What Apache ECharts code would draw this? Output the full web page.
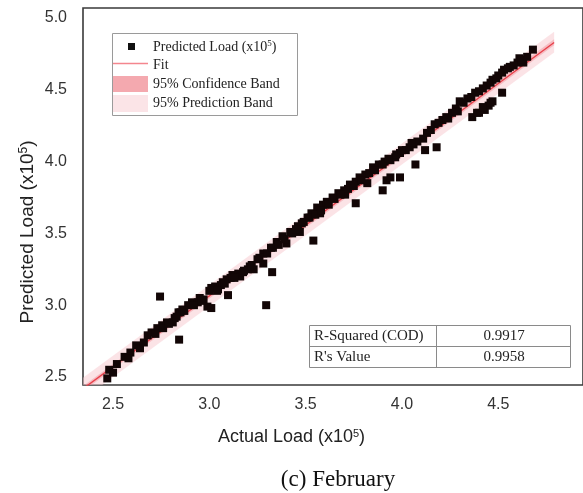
<!DOCTYPE html>
<html>
<head>
<meta charset="utf-8">
<script src="https://cdn.jsdelivr.net/npm/echarts@6/dist/echarts.min.js"></script>
<style>html,body{margin:0;padding:0;background:#fff;}#c{width:583px;height:493px;}</style>
</head>
<body>
<div id="c"></div>
<script>
// Data (units x10^5)
var actualLoad = [2.47,2.48,2.52,2.56,2.59,2.62,2.64,2.68,2.70,2.73,2.755,2.78,2.81,2.82,2.84,2.85,2.86,2.89,2.91,2.94,2.95,2.97,2.99,3.01,3.01,3.03,3.045,3.06,3.07,3.09,3.11,3.12,3.15,3.16,3.175,3.20,3.23,
  2.744,2.843,3.097,3.295,3.326,
  3.21,3.25,3.28,3.28,3.32,3.35,3.38,3.40,3.42,3.46,3.47,3.48,3.51,3.53,3.56,3.575,3.59,3.61,3.64,3.67,3.70,3.705,3.73,3.76,3.78,3.81,3.82,3.85,3.88,3.91,3.94,
  3.54,3.76,3.90,3.92,3.94,3.99,4.07,
  3.965,3.99,4.02,4.04,4.06,4.08,4.11,4.15,4.17,4.21,4.24,4.28,4.29,4.30,4.34,4.38,4.42,4.44,4.47,4.50,4.53,4.56,4.60,4.61,4.63,4.68,
  4.365,4.39,4.43,4.45,4.47,4.52,4.12,4.18,
  2.50,2.58,2.66,2.72,2.76,2.79,2.83,2.87,2.92,2.96,3.00,3.04,3.08,3.13,3.18,3.22,3.26,3.30,3.33,3.36,3.39,3.43,3.45,3.49,3.52,3.55,3.58,3.62,3.65,3.68,3.72,3.75,3.79,3.83,3.86,3.90,3.93,3.97,4.00,4.05,4.13,4.19,4.23,4.26,4.32,4.36,4.40,4.46,4.49,4.52,4.55,4.58,4.62,4.65,4.40,4.42,4.46];
var predictedLoad = [2.49,2.55,2.59,2.64,2.67,2.72,2.70,2.79,2.81,2.84,2.86,2.88,2.88,2.91,2.95,2.95,2.97,3.00,3.02,3.02,3.05,3.04,2.99,2.98,3.12,3.13,3.11,3.14,3.16,3.18,3.19,3.21,3.22,3.20,3.23,3.25,3.25,
  3.06,2.76,3.07,3.00,3.23,
  3.27,3.32,3.36,3.29,3.40,3.44,3.48,3.43,3.51,3.55,3.51,3.57,3.61,3.64,3.68,3.64,3.70,3.72,3.75,3.78,3.80,3.77,3.84,3.86,3.89,3.91,3.85,3.96,3.98,4.00,4.01,
  3.45,3.71,3.80,3.87,3.89,3.89,3.98,
  4.03,4.06,4.08,4.10,4.12,4.14,4.16,4.22,4.26,4.29,4.30,4.37,4.35,4.42,4.44,4.48,4.51,4.53,4.57,4.60,4.64,4.66,4.69,4.72,4.69,4.78,
  4.31,4.34,4.36,4.39,4.42,4.48,4.08,4.10,
  2.53,2.63,2.74,2.80,2.84,2.87,2.92,2.96,3.00,3.03,3.10,3.10,3.15,3.19,3.24,3.28,3.33,3.36,3.40,3.42,3.46,3.50,3.53,3.58,3.61,3.63,3.66,3.70,3.74,3.77,3.81,3.83,3.87,3.92,3.94,3.98,4.02,4.05,4.08,4.13,4.20,4.27,4.31,4.34,4.41,4.45,4.49,4.55,4.58,4.62,4.65,4.67,4.71,4.73,4.34,4.38,4.41];

var fitX = [2.344, 4.79];
var fitY = [2.418, 4.83];
var bandX = [2.344, 4.79];
var confLower = [2.400, 4.810];
var confUpper = [2.436, 4.852];
var predLower = [2.345, 4.760];
var predUpper = [2.495, 4.905];

var xTicks = [2.5, 3.0, 3.5, 4.0, 4.5];
var yTicks = [2.5, 3.0, 3.5, 4.0, 4.5, 5.0];
var rSquared = '0.9917';
var rValue = '0.9958';

var scatterData = actualLoad.map(function(v, i){ return [v, predictedLoad[i]]; });
var fitData = fitX.map(function(v, i){ return [v, fitY[i]]; });

function bandSeries(lower, upper, color) {
  return {
    type: 'custom',
    clip: true,
    silent: true,
    data: bandX.map(function(v, i){ return [v, lower[i], upper[i]]; }),
    encode: {x: 0, y: [1, 2]},
    renderItem: function(params, api) {
      if (params.dataIndex !== 0) return null;
      var pts = [];
      for (var i = 0; i < bandX.length; i++) pts.push(api.coord([bandX[i], upper[i]]));
      for (var j = bandX.length - 1; j >= 0; j--) pts.push(api.coord([bandX[j], lower[j]]));
      var cs = params.coordSys;
      return {
        type: 'group',
        clipPath: {type: 'rect', shape: {x: cs.x, y: cs.y, width: cs.width, height: cs.height}},
        children: [{type: 'polygon', shape: {points: pts}, style: {fill: color}}]
      };
    },
    z: 1
  };
}

var serif = '"Liberation Serif", "Times New Roman", serif';
var sans = '"Liberation Sans", Arial, sans-serif';

var chart = echarts.init(document.getElementById('c'), null, {renderer: 'canvas'});
chart.setOption({
  animation: false,
  backgroundColor: '#fff',
  grid: {left: 83, top: 8, right: -3, bottom: 108, show: true, borderColor: '#3a3a3a', borderWidth: 1.6, backgroundColor: 'transparent'},
  xAxis: {
    type: 'value', min: 2.344, max: 4.94,
    axisLine: {show: false}, axisTick: {show: false}, splitLine: {show: false},
    axisLabel: {customValues: xTicks, color: '#333', fontFamily: sans, fontSize: 16, margin: 12,
      formatter: function(v){ return v.toFixed(1); }}
  },
  yAxis: {
    type: 'value', min: 2.444, max: 5.07,
    axisLine: {show: false}, axisTick: {show: false}, splitLine: {show: false},
    axisLabel: {customValues: yTicks, color: '#333', fontFamily: sans, fontSize: 16, margin: 16,
      formatter: function(v){ return v.toFixed(1); }}
  },
  series: [
    bandSeries(predLower, predUpper, 'rgba(248,200,206,0.5)'),
    bandSeries(confLower, confUpper, 'rgba(240,140,150,0.45)'),
    {type: 'line', data: fitData, showSymbol: false, symbol: 'none', lineStyle: {color: '#e8404a', width: 1.4}, z: 3},
    {type: 'scatter', data: scatterData, symbol: 'rect', symbolSize: 8, itemStyle: {color: '#120606', opacity: 1}, z: 4}
  ],
  graphic: [
    // axis titles
    {type: 'text', left: 'center', top: 428, style: {
      text: '{a|Actual Load (x10}{s|5}{a|)}',
      rich: {a: {fontFamily: sans, fontSize: 18, fill: '#222'}, s: {fontFamily: sans, fontSize: 11, fill: '#222', padding: [0,0,8,0]}}
    }, x: 0},
    {type: 'text', x: 18, y: 232, rotation: Math.PI / 2, style: {
      text: '{a|Predicted Load (x10}{s|5}{a|)}', align: 'center', verticalAlign: 'top',
      rich: {a: {fontFamily: sans, fontSize: 19, fill: '#222'}, s: {fontFamily: sans, fontSize: 12, fill: '#222', padding: [0,0,8,0]}}
    }},
    {type: 'text', x: 338, y: 480, style: {text: '(c) February', fontFamily: serif, fontSize: 23, fill: '#111', align: 'center', verticalAlign: 'middle'}},
    // legend box
    {type: 'rect', shape: {x: 112.5, y: 33.5, width: 185, height: 82}, style: {fill: '#fff', stroke: '#9a9a9a', lineWidth: 1}, z: 10},
    {type: 'rect', shape: {x: 128, y: 43, width: 7, height: 7}, style: {fill: '#111'}, z: 11},
    {type: 'line', shape: {x1: 113, y1: 63.5, x2: 148, y2: 63.5}, style: {stroke: '#f4868e', lineWidth: 1.5}, z: 11},
    {type: 'rect', shape: {x: 113, y: 76, width: 35, height: 16}, style: {fill: '#f4a9af'}, z: 11},
    {type: 'rect', shape: {x: 113, y: 95, width: 35, height: 17}, style: {fill: '#fbe4e7'}, z: 11},
    {type: 'text', x: 153, y: 47, z: 11, style: {text: '{a|Predicted Load (x10}{s|5}{a|)}', verticalAlign: 'middle',
      rich: {a: {fontFamily: serif, fontSize: 14, fill: '#222'}, s: {fontFamily: serif, fontSize: 9, fill: '#222', padding: [0,0,7,0]}}}},
    {type: 'text', x: 153, y: 65, z: 11, style: {text: 'Fit', fontFamily: serif, fontSize: 14, fill: '#222', verticalAlign: 'middle'}},
    {type: 'text', x: 153, y: 84, z: 11, style: {text: '95% Confidence Band', fontFamily: serif, fontSize: 14, fill: '#222', verticalAlign: 'middle'}},
    {type: 'text', x: 153, y: 103, z: 11, style: {text: '95% Prediction Band', fontFamily: serif, fontSize: 14, fill: '#222', verticalAlign: 'middle'}},
    // stats table
    {type: 'rect', shape: {x: 309.5, y: 325.5, width: 261, height: 42}, style: {fill: '#fff', stroke: '#8a8a8a', lineWidth: 1}, z: 10},
    {type: 'line', shape: {x1: 309.5, y1: 346.5, x2: 570.5, y2: 346.5}, style: {stroke: '#8a8a8a', lineWidth: 1}, z: 11},
    {type: 'line', shape: {x1: 436.5, y1: 325.5, x2: 436.5, y2: 367.5}, style: {stroke: '#8a8a8a', lineWidth: 1}, z: 11},
    {type: 'text', x: 314, y: 336.5, z: 11, style: {text: 'R-Squared (COD)', fontFamily: serif, fontSize: 15, fill: '#222', verticalAlign: 'middle'}},
    {type: 'text', x: 314, y: 357.5, z: 11, style: {text: "R's Value", fontFamily: serif, fontSize: 15, fill: '#222', verticalAlign: 'middle'}},
    {type: 'text', x: 504, y: 336.5, z: 11, style: {text: rSquared, fontFamily: serif, fontSize: 15, fill: '#222', align: 'center', verticalAlign: 'middle'}},
    {type: 'text', x: 504, y: 357.5, z: 11, style: {text: rValue, fontFamily: serif, fontSize: 15, fill: '#222', align: 'center', verticalAlign: 'middle'}}
  ]
});
</script>
</body>
</html>
